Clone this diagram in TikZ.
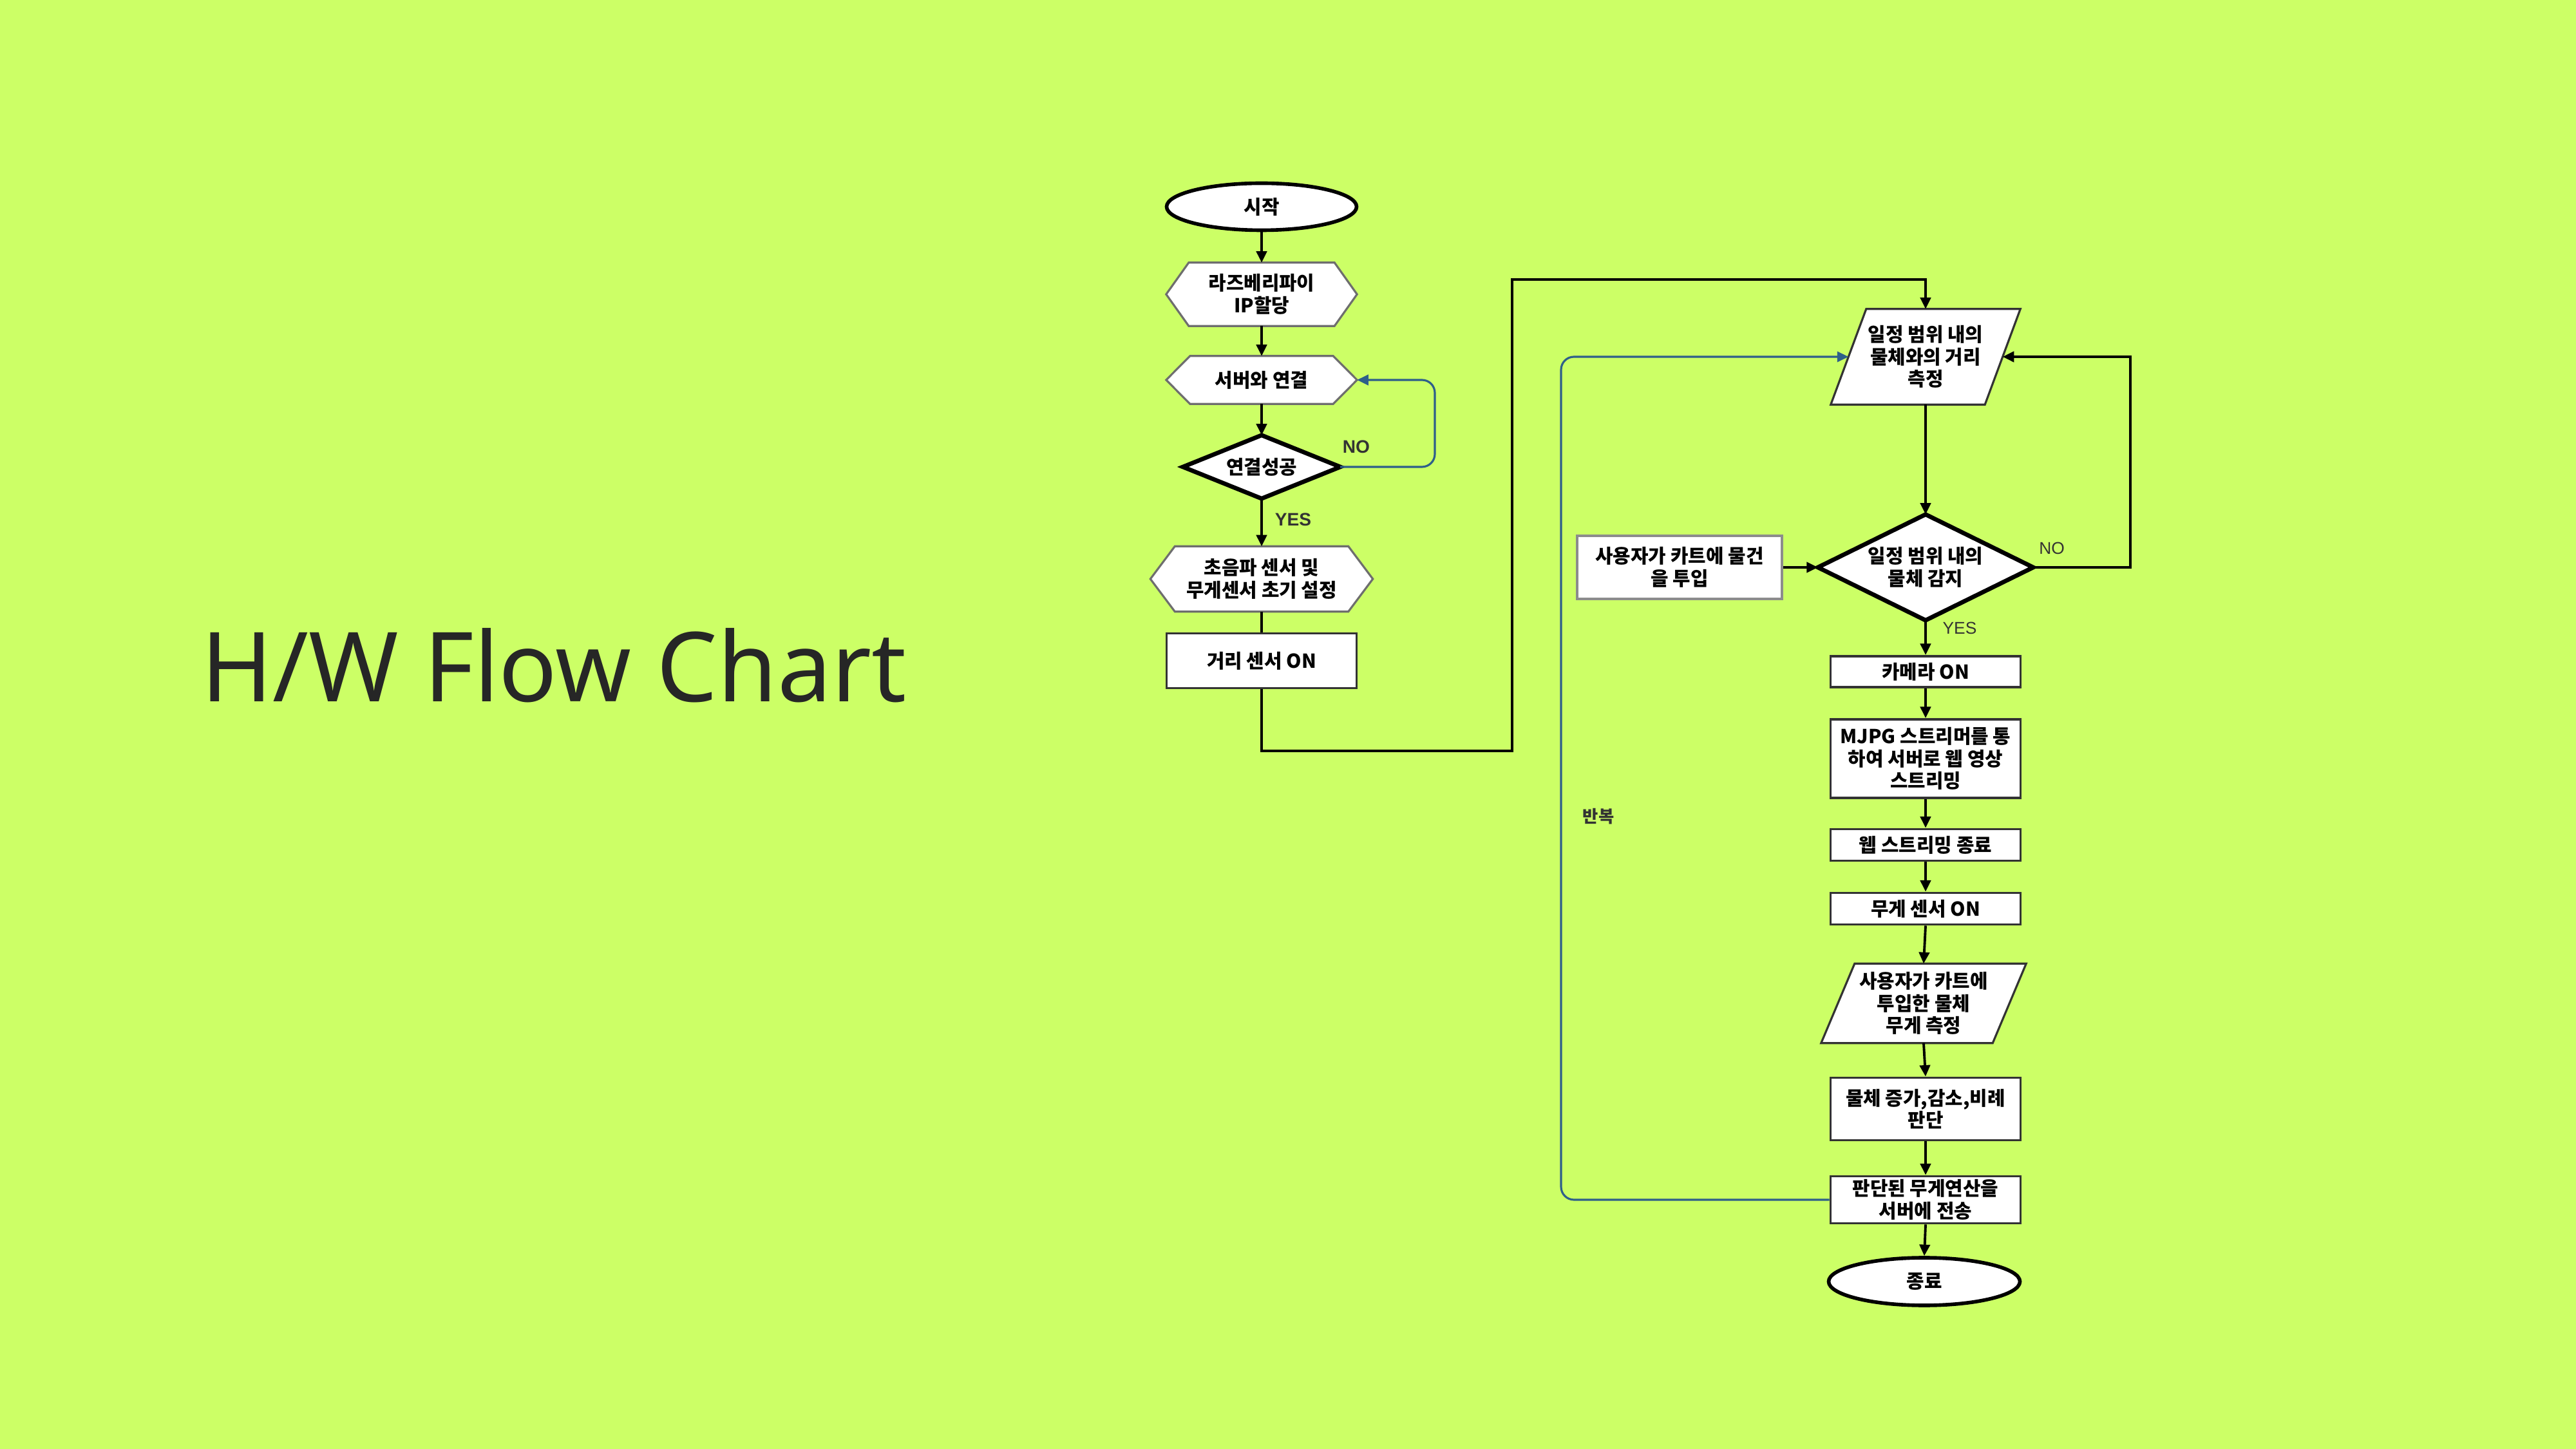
\documentclass[tikz,border=0pt]{standalone}
\usepackage{fontspec}
\setmainfont{Liberation Sans}
\newfontfamily\kr{Noto Sans CJK KR}
\newfontfamily\titlefont{Noto Sans}
\usetikzlibrary{shapes.geometric}
\usetikzlibrary{arrows.meta}
\pgfdeclarelayer{back}
\pgfdeclarelayer{shapes}
\pgfsetlayers{back,shapes,main}
\definecolor{bg}{HTML}{CCFF66}
\definecolor{titlegray}{HTML}{262626}
\definecolor{boxgray}{HTML}{333333}
\definecolor{hexgray}{HTML}{6E6E6E}
\definecolor{lightgray}{HTML}{8C8C8C}
\definecolor{loopblue}{HTML}{2E5F8A}
\tikzset{
    chart/.style={font=\kr\bfseries\fontsize{8.5}{9.8}\selectfont, align=center, inner sep=0pt},
    terminal/.style={chart, ellipse, draw=black, line width=1.6pt, fill=white,
        minimum width=2.95cm, minimum height=0.73cm},
    process/.style={chart, rectangle, draw=boxgray, line width=1.1pt, fill=white,
        minimum width=2.95cm},
    frame/.style={chart, rectangle, minimum width=2.95cm},
    hexline/.style={draw=hexgray, line width=0.9pt, fill=white},
    decline/.style={draw=black, line width=1.9pt, fill=white, line join=miter},
    ioline/.style={draw=boxgray, line width=0.9pt, fill=white},
    link/.style={draw=black, line width=1.1pt},
    flow/.style={link, -{Triangle[length=5pt,width=4.6pt]}},
    loop/.style={draw=loopblue, line width=0.9pt, rounded corners=0.2cm,
        -{Triangle[length=5pt,width=4.6pt]}},
    tagbold/.style={font=\bfseries\fontsize{8}{9}\selectfont, text=boxgray, inner sep=1pt},
    tag/.style={font=\fontsize{7.5}{9}\selectfont, text=boxgray, inner sep=1pt},
    title/.style={font=\titlefont\fontsize{42.7}{50}\selectfont, text=titlegray,
        anchor=base west, inner sep=0pt}
}
\begin{document}
\begin{tikzpicture}
\useasboundingbox (0,0) rectangle (40,-22.5);
\begin{pgfonlayer}{back}
\fill[bg] (0,0) rectangle (40,-22.5);
\end{pgfonlayer}

\node[title] (head) at (3.12,-10.90) {H/W Flow Chart};

% left column
\node[terminal] (start) at (19.59,-3.21) {시작};
\node[frame, minimum height=0.97cm] (ip) at (19.59,-4.57) {라즈베리파이\\IP할당};
\node[frame, minimum height=0.73cm] (srv) at (19.59,-5.90) {서버와 연결};
\node[frame, minimum width=2.43cm, minimum height=0.97cm] (ok) at (19.59,-7.25) {연결성공};
\node[frame, minimum width=3.44cm, minimum height=1.00cm] (init) at (19.59,-8.99) {초음파 센서 및\\무게센서 초기 설정};
\node[process, minimum height=0.85cm] (dist) at (19.59,-10.26) {거리 센서 ON};

% right column
\node[frame, minimum width=2.93cm, minimum height=1.47cm] (meas) at (29.90,-5.54) {일정 범위 내의\\물체와의 거리\\측정};
\node[frame, minimum width=3.33cm, minimum height=1.63cm] (detect) at (29.90,-8.81) {일정 범위 내의\\물체 감지};
\node[process, draw=lightgray, minimum width=3.18cm, minimum height=0.98cm] (put) at (26.08,-8.81) {사용자가 카트에 물건\\을 투입};
\node[process, minimum height=0.48cm] (cam) at (29.90,-10.43) {카메라 ON};
\node[process, minimum height=1.22cm] (mjpg) at (29.90,-11.78) {MJPG 스트리머를 통\\하여 서버로 웹 영상\\스트리밍};
\node[process, minimum height=0.49cm] (webend) at (29.90,-13.12) {웹 스트리밍 종료};
\node[process, minimum height=0.49cm] (wgt) at (29.90,-14.11) {무게 센서 ON};
\node[frame, minimum width=3.17cm, minimum height=1.22cm] (wmeas) at (29.87,-15.58) {사용자가 카트에\\투입한 물체\\무게 측정};
\node[process, minimum height=0.97cm] (judge) at (29.90,-17.22) {물체 증가,감소,비례\\판단};
\node[process, minimum height=0.73cm] (send) at (29.90,-18.63) {판단된 무게연산을\\서버에 전송};
\node[terminal, minimum width=2.97cm, minimum height=0.74cm] (stop) at (29.88,-19.90) {종료};

\begin{pgfonlayer}{shapes}
\path[hexline] (ip.west) -- ([xshift=0.35cm]ip.north west) -- ([xshift=-0.35cm]ip.north east)
  -- (ip.east) -- ([xshift=-0.35cm]ip.south east) -- ([xshift=0.35cm]ip.south west) -- cycle;
\path[hexline] (srv.west) -- ([xshift=0.37cm]srv.north west) -- ([xshift=-0.37cm]srv.north east)
  -- (srv.east) -- ([xshift=-0.37cm]srv.south east) -- ([xshift=0.37cm]srv.south west) -- cycle;
\path[hexline] (init.west) -- ([xshift=0.38cm]init.north west) -- ([xshift=-0.38cm]init.north east)
  -- (init.east) -- ([xshift=-0.38cm]init.south east) -- ([xshift=0.38cm]init.south west) -- cycle;
\path[decline] (ok.north) -- (ok.east) -- (ok.south) -- (ok.west) -- cycle;
\path[decline] (detect.north) -- (detect.east) -- (detect.south) -- (detect.west) -- cycle;
\path[ioline] ([xshift=0.55cm]meas.north west) -- (meas.north east)
  -- ([xshift=-0.55cm]meas.south east) -- (meas.south west) -- cycle;
\path[ioline] ([xshift=0.52cm]wmeas.north west) -- (wmeas.north east)
  -- ([xshift=-0.52cm]wmeas.south east) -- (wmeas.south west) -- cycle;
\end{pgfonlayer}

\coordinate (retry) at (22.28,-7.25);
\coordinate (turnlow) at (23.48,-11.66);
\coordinate (turnhigh) at (23.48,-4.34);
\coordinate (noturn) at (33.08,-8.81);
\coordinate (backturn) at (24.24,-18.63);

% connectors
\draw[flow] (start.south) -- (ip.north);
\draw[flow] (ip.south) -- (srv.north);
\draw[flow] (srv.south) -- (ok.north);
\draw[flow] (ok.south) -- (init.north);
\node[tagbold] (yesleft) at (20.08,-8.07) {YES};
\draw[link] (init.south) -- (dist.north);
\draw[loop] (ok.east) -- (retry) |- (srv.east);
\node[tagbold] (noleft) at (21.06,-6.94) {NO};
\draw[flow] (dist.south) |- (turnlow) -- (turnhigh) -| (meas.north);

\draw[flow] (meas.south) -- (detect.north);
\draw[flow] (put.east) -- (detect.west);
\draw[flow] (detect.east) -- (noturn) |- ([xshift=-0.275cm]meas.east);
\node[tag] (noright) at (31.86,-8.51) {NO};
\draw[flow] (detect.south) -- (cam.north);
\node[tag] (yesright) at (30.43,-9.75) {YES};
\draw[flow] (cam.south) -- (mjpg.north);
\draw[flow] (mjpg.south) -- (webend.north);
\draw[flow] (webend.south) -- (wgt.north);
\draw[flow] (wgt.south) -- (wmeas.north);
\draw[flow] (wmeas.south) -- (judge.north);
\draw[flow] (judge.south) -- (send.north);
\draw[flow] (send.south) -- (stop.north);
\draw[loop] (send.west) -- (backturn) |- ([xshift=0.275cm]meas.west);
\node[tag, font=\kr\bfseries\fontsize{7.5}{9}\selectfont] (again) at (24.82,-12.68) {반복};
\end{tikzpicture}
\end{document}
